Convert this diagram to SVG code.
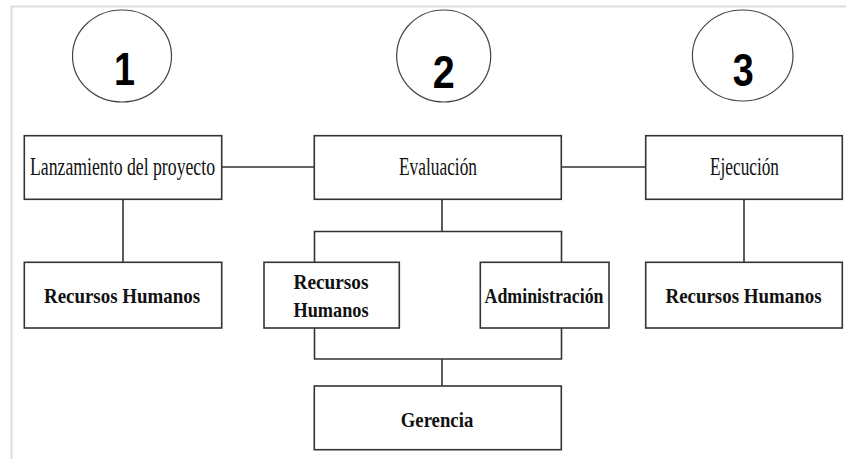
<svg xmlns="http://www.w3.org/2000/svg" width="846" height="459" viewBox="0 0 846 459">
<style>
.box{fill:#fff;stroke:#333;stroke-width:1.6}
.ell{fill:#fff;stroke:#444;stroke-width:1.2}
.con{fill:none;stroke:#333;stroke-width:1.6}
.t{font-family:'Liberation Serif','DejaVu Serif',serif;font-size:25px;fill:#111;text-anchor:middle}
.b{font-family:'Liberation Serif','DejaVu Serif',serif;font-size:22px;font-weight:bold;fill:#111;text-anchor:middle}
.n{font-family:'Liberation Sans','DejaVu Sans',sans-serif;font-size:46px;font-weight:bold;fill:#000;text-anchor:middle}
</style>
<rect width="846" height="459" fill="#fff"/>
<path d="M11.5,459 V6.5 H846" fill="none" stroke="#ddd" stroke-width="2"/>
<g id="connectors">
<path class="con" d="M222,167 H314"/>
<path class="con" d="M561,167 H646"/>
<path class="con" d="M123,199 V262"/>
<path class="con" d="M442,199 V231.5"/>
<path class="con" d="M314.5,262 V231.5 H561.5 V262"/>
<path class="con" d="M314.5,328 V359 H561.5 V328"/>
<path class="con" d="M442,359 V386"/>
<path class="con" d="M744,199 V262"/>
</g>
<g id="c1"><ellipse class="ell" cx="122" cy="56" rx="49.5" ry="46"/><text class="n" x="124.5" y="85" textLength="21" lengthAdjust="spacingAndGlyphs">1</text></g>
<g id="c2"><ellipse class="ell" cx="443.7" cy="56" rx="47" ry="46"/><text class="n" x="443.7" y="88" textLength="22" lengthAdjust="spacingAndGlyphs">2</text></g>
<g id="c3"><ellipse class="ell" cx="742.7" cy="55.5" rx="50.3" ry="45.5"/><text class="n" x="743.3" y="86" textLength="21" lengthAdjust="spacingAndGlyphs">3</text></g>
<g id="lanzamiento"><rect class="box" x="24.3" y="135.7" width="197.4" height="63.6"/><text class="t" x="122.5" y="175" textLength="185" lengthAdjust="spacingAndGlyphs">Lanzamiento del proyecto</text></g>
<g id="evaluacion"><rect class="box" x="314.3" y="135.7" width="247" height="63.6"/><text class="t" x="438" y="175" textLength="78" lengthAdjust="spacingAndGlyphs">Evaluación</text></g>
<g id="ejecucion"><rect class="box" x="645.7" y="135.7" width="196.6" height="63.6"/><text class="t" x="744.5" y="175" textLength="69" lengthAdjust="spacingAndGlyphs">Ejecución</text></g>
<g id="rh1"><rect class="box" x="24.3" y="262.3" width="197.4" height="65.7"/><text class="b" x="122" y="303" textLength="156" lengthAdjust="spacingAndGlyphs">Recursos Humanos</text></g>
<g id="rh2"><rect class="box" x="264" y="262.3" width="135.3" height="65.7"/><text class="b" x="331" y="289.3" textLength="75" lengthAdjust="spacingAndGlyphs">Recursos</text><text class="b" x="331" y="317.3" textLength="75" lengthAdjust="spacingAndGlyphs">Humanos</text></g>
<g id="admin"><rect class="box" x="480.3" y="262.3" width="128.7" height="65.7"/><text class="b" x="544" y="303.3" textLength="119" lengthAdjust="spacingAndGlyphs">Administración</text></g>
<g id="rh3"><rect class="box" x="645.7" y="262.3" width="196.6" height="65.7"/><text class="b" x="743.5" y="303" textLength="156" lengthAdjust="spacingAndGlyphs">Recursos Humanos</text></g>
<g id="gerencia"><rect class="box" x="314.3" y="386" width="247" height="63.7"/><text class="b" x="437" y="426.5" textLength="72.5" lengthAdjust="spacingAndGlyphs">Gerencia</text></g>
</svg>
